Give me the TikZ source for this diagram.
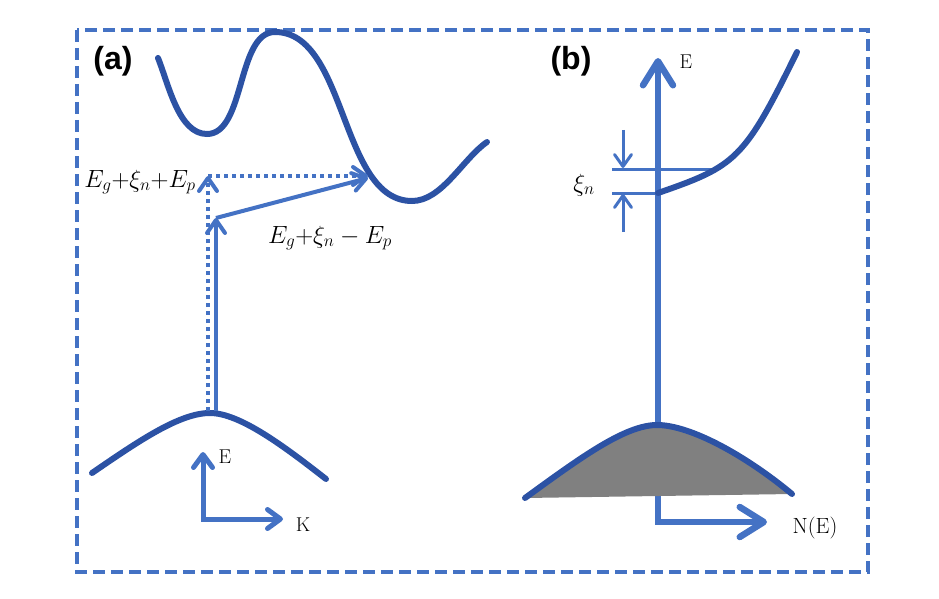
\documentclass[tikz,border=0pt]{standalone}
\usepackage{fontspec}
\newfontfamily\labelsans{Liberation Sans}
\usetikzlibrary{arrows.meta}
\definecolor{lblue}{RGB}{68,114,196}
\definecolor{dblue}{RGB}{44,82,164}
\definecolor{vgray}{RGB}{128,128,128}
\begin{document}
\begin{tikzpicture}[x=1pt,y=-1pt,
  frame/.style={lblue, line width=3.5pt, dash pattern=on 12pt off 6pt},
  panel/.style={font=\labelsans\bfseries\fontsize{32}{36}\selectfont, inner sep=0pt},
  band/.style={dblue, line width=6pt, line cap=round},
  tr/.style={lblue, line width=4pt, -{Straight Barb[length=13pt,width=18pt,round]}},
  dottr/.style={tr, dash pattern=on 4pt off 4pt},
  axa/.style={lblue, line width=5pt, {Straight Barb[length=13pt,width=19pt,round]}-{Straight Barb[length=13pt,width=19pt,round]}},
  axb/.style={lblue, line width=6.5pt, {Straight Barb[length=24pt,width=30pt,round]}-{Straight Barb[length=24pt,width=30pt,round]}},
  lvl/.style={lblue, line width=3pt},
  small/.style={lblue, line width=3pt, -{Straight Barb[length=12pt,width=17pt,round]}},
  mlab/.style={font=\fontsize{25}{29}\selectfont, inner sep=0pt},
  tlab/.style={font=\fontsize{20}{24}\selectfont, inner sep=0pt}
]
\useasboundingbox (0,0) rectangle (939,599);
\draw[frame] (77,30) rectangle (868,572);
\node[panel] (pa) at (113,61) {(a)};
\node[panel] (pb) at (571,61) {(b)};

% ---------- panel (a) ----------
\coordinate (cbs) at (158,58);
\coordinate (cbm1) at (207,134);
\coordinate (cbmax) at (275,32);
\coordinate (cbm2) at (412,201);
\coordinate (cbe) at (487,142);
\draw[band] (cbs) to[out=-68,in=180,looseness=0.8] (cbm1) to[out=0,in=180,looseness=0.8] (cbmax)
  to[out=0,in=180,looseness=0.85] (cbm2) to[out=0,in=215,looseness=0.8] (cbe);

\coordinate (vbs) at (92,473);
\coordinate (vbt) at (210,413);
\coordinate (vbe) at (326,479);
\draw[band] (vbs) .. controls (140,440) and (180,413) .. (vbt)
  .. controls (240,413) and (285,447) .. (vbe);

\coordinate (dv0) at (208,411);
\coordinate (dv1) at (208,176);
\coordinate (dh1) at (368,176);
\coordinate (sv0) at (216,411);
\coordinate (sv1) at (216,218);
\coordinate (sd1) at (368,178);
\draw[dottr] (dv0) -- (dv1);
\draw[dottr] (dv1) -- (dh1);
\draw[tr] (sv0) -- (sv1);
\draw[tr] (sv1) -- (sd1);

\node[mlab] (l1) at (140,182) {$E_g{+}\xi_n{+}E_p$};
\node[mlab] (l2) at (330,238) {$E_g{+}\xi_n-E_p$};

\coordinate (oa) at (203,519);
\coordinate (ea) at (203,452);
\coordinate (ka) at (283,519);
\draw[axa] (ea) -- (oa) -- (ka);
\node[tlab] (le) at (225,457) {E};
\node[tlab] (lk) at (303,525) {K};

% ---------- panel (b) ----------
\coordinate (ob) at (658,522);
\coordinate (eb) at (658,58);
\coordinate (nb) at (767,522);
\draw[axb] (eb) -- (ob) -- (nb);

\coordinate (vs) at (525,498);
\coordinate (vt) at (657,425);
\coordinate (ve) at (792,494);
\fill[vgray] (vs) .. controls (580,458) and (625,425) .. (vt)
  .. controls (690,425) and (745,455) .. (ve) -- cycle;
\draw[band] (vs) .. controls (580,458) and (625,425) .. (vt)
  .. controls (690,425) and (745,455) .. (ve);

\coordinate (h1a) at (612,169);
\coordinate (h1b) at (717,169);
\coordinate (h2a) at (612,193);
\coordinate (h2b) at (658,193);
\draw[lvl] (h1a) -- (h1b);
\draw[lvl] (h2a) -- (h2b);
\coordinate (a1s) at (623,130);
\coordinate (a1e) at (623,168);
\coordinate (a2s) at (623,232);
\coordinate (a2e) at (623,194);
\draw[small] (a1s) -- (a1e);
\draw[small] (a2s) -- (a2e);

\coordinate (cb0) at (658,193);
\coordinate (cb1) at (797,52);
\draw[band] (cb0) .. controls (736,166) and (744,160) .. (cb1);

\node[mlab] (lxi) at (584,185) {$\xi_n$};
\node[tlab] (leb) at (686,62) {E};
\node[tlab, font=\fontsize{22}{26}\selectfont] (lne) at (815,528) {N(E)};
\end{tikzpicture}
\end{document}
